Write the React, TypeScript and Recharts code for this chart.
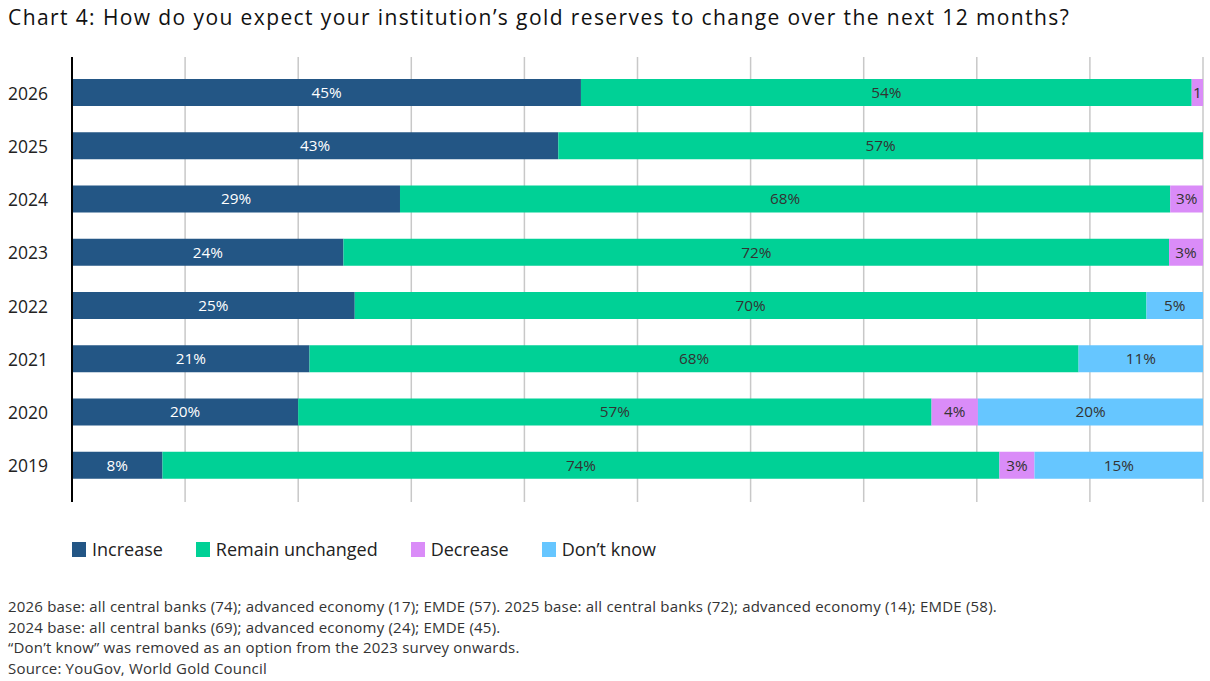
import React from "react";
import {
  Bar,
  BarChart,
  CartesianGrid,
  LabelList,
  XAxis,
  YAxis,
} from "recharts";

const years = ["2026", "2025", "2024", "2023", "2022", "2021", "2020", "2019"];

const increase = [45, 43, 29, 24, 25, 21, 20, 8];
const unchanged = [54, 57, 68.1, 73, 70, 68, 56, 74];
const decrease = [1, 0, 2.9, 3, 0, 0, 4.1, 3.1];
const dontKnow = [0, 0, 0, 0, 5, 11, 19.9, 14.9];

const increaseLabels = ["45%", "43%", "29%", "24%", "25%", "21%", "20%", "8%"];
const unchangedLabels = ["54%", "57%", "68%", "72%", "70%", "68%", "57%", "74%"];
const decreaseLabels = ["1", "", "3%", "3%", "", "", "4%", "3%"];
const dontKnowLabels = ["", "", "", "", "5%", "11%", "20%", "15%"];

const xTicks = [0, 10, 20, 30, 40, 50, 60, 70, 80, 90, 100];

const legendItems = [
  { name: "Increase", color: "#235685" },
  { name: "Remain unchanged", color: "#00D196" },
  { name: "Decrease", color: "#DA8CF8" },
  { name: "Don\u2019t know", color: "#66C6FF" },
];

const notes = [
  "2026 base: all central banks (74); advanced economy (17); EMDE (57). 2025 base: all central banks (72); advanced economy (14); EMDE (58).",
  "2024 base: all central banks (69); advanced economy (24); EMDE (45).",
  "\u201CDon\u2019t know\u201D was removed as an option from the 2023 survey onwards.",
  "Source: YouGov, World Gold Council",
];

const rows = years.map((year, i) => ({
  year,
  inc: increase[i],
  rem: unchanged[i],
  dec: decrease[i],
  dk: dontKnow[i],
  incL: increaseLabels[i],
  remL: unchangedLabels[i],
  decL: decreaseLabels[i],
  dkL: dontKnowLabels[i],
}));

const FONT = "'Open Sans', 'Noto Sans', sans-serif";

function YearTick(props: any) {
  const { y, payload } = props;
  return (
    <text x={8} y={y} dy={7} textAnchor="start" fill="#222" fontSize={17.5} fontFamily={FONT}>
      {payload.value}
    </text>
  );
}

export default function App() {
  const labelStyle = { fontSize: 15.3, fontFamily: FONT };
  return (
    <div
      style={{
        position: "absolute",
        left: 0,
        top: 0,
        width: 1210,
        height: 681,
        background: "#fff",
        fontFamily: FONT,
        overflow: "hidden",
      }}
    >
      <div
        style={{
          position: "absolute",
          left: 8,
          top: 3,
          fontSize: 21,
          letterSpacing: 1.4,
          color: "#111",
          whiteSpace: "nowrap",
        }}
      >
        Chart 4: How do you expect your institution’s gold reserves to change over the next 12 months?
      </div>

      <div style={{ position: "absolute", left: 0, top: 0 }}>
        <BarChart
          width={1210}
          height={520}
          data={rows}
          layout="vertical"
          barSize={27}
          margin={{ top: 57, right: 7, left: 0, bottom: 18 }}
        >
          <CartesianGrid horizontal={false} stroke="#c8c8c8" strokeWidth={1.5} />
          <XAxis type="number" domain={[0, 100]} ticks={xTicks} hide />
          <YAxis
            type="category"
            dataKey="year"
            width={72}
            padding={{ top: 9, bottom: 10 }}
            axisLine={{ stroke: "#000", strokeWidth: 2 }}
            tickLine={false}
            tick={<YearTick />}
          />
          <Bar dataKey="inc" stackId="a" fill="#235685" isAnimationActive={false}>
            <LabelList dataKey="incL" position="center" fill="#fff" style={labelStyle} />
          </Bar>
          <Bar dataKey="rem" stackId="a" fill="#00D196" isAnimationActive={false}>
            <LabelList dataKey="remL" position="center" fill="#333" style={labelStyle} />
          </Bar>
          <Bar dataKey="dec" stackId="a" fill="#DA8CF8" isAnimationActive={false}>
            <LabelList dataKey="decL" position="center" fill="#333" style={labelStyle} />
          </Bar>
          <Bar dataKey="dk" stackId="a" fill="#66C6FF" isAnimationActive={false}>
            <LabelList dataKey="dkL" position="center" fill="#333" style={labelStyle} />
          </Bar>
        </BarChart>
      </div>

      <div
        style={{
          position: "absolute",
          left: 72,
          top: 537,
          display: "flex",
          alignItems: "center",
          gap: 33,
          fontSize: 18,
          color: "#222",
        }}
      >
        {legendItems.map((item) => (
          <div key={item.name} style={{ display: "flex", alignItems: "center" }}>
            <span
              style={{
                display: "inline-block",
                width: 14,
                height: 15,
                background: item.color,
                marginRight: 6,
              }}
            />
            <span>{item.name}</span>
          </div>
        ))}
      </div>

      <div
        style={{
          position: "absolute",
          left: 8,
          top: 596,
          fontSize: 15,
          letterSpacing: 0.2,
          lineHeight: "20.7px",
          color: "#333",
          whiteSpace: "nowrap",
        }}
      >
        {notes.map((n) => (
          <div key={n}>{n}</div>
        ))}
      </div>
    </div>
  );
}
